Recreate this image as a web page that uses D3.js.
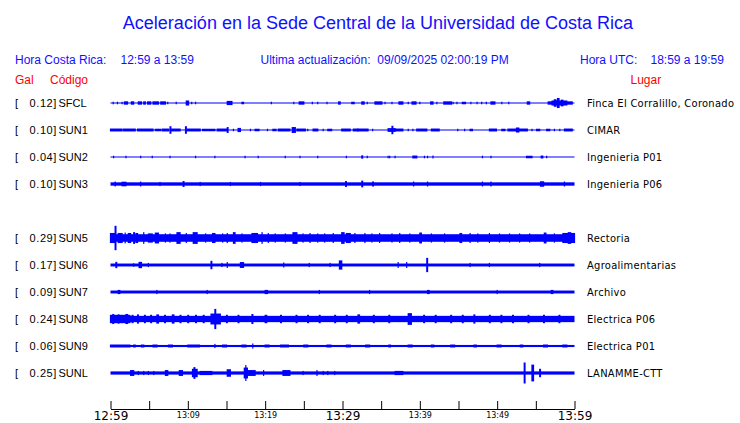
<!DOCTYPE html>
<html>
<head>
<meta charset="utf-8">
<script src="https://cdn.jsdelivr.net/npm/d3@7"></script>
<style>
  body { margin: 0; background: #fff; }
  svg { display: block; }
  .hdr { font-family: "Liberation Sans", Arial, sans-serif; font-size: 12px; }
  .blue { fill: #1010ff; }
  .red { fill: #ff0000; }
  .code { font-family: "Liberation Sans", Arial, sans-serif; font-size: 11px; fill: #000; }
  .place { font-family: "DejaVu Sans Condensed", "DejaVu Sans", sans-serif; font-size: 11px; letter-spacing: 0.3px; fill: #000; }
  .axis text { font-family: "DejaVu Sans", sans-serif; font-weight: normal; fill: #000; }
</style>
</head>
<body>
<svg id="chart" width="740" height="423"></svg>
<script>
// rows in the plot, SUN4 has no trace today so its row stays empty
var rowOrder = ["SFCL", "SUN1", "SUN2", "SUN3", "SUN4", "SUN5", "SUN6", "SUN7", "SUN8", "SUN9", "SUNL"];

var codes = ["SFCL", "SUN1", "SUN2", "SUN3", "SUN5", "SUN6", "SUN7", "SUN8", "SUN9", "SUNL"];
var peaks = [0.12, 0.10, 0.04, 0.10, 0.29, 0.17, 0.09, 0.24, 0.06, 0.25];
var places = ["Finca El Corralillo, Coronado", "CIMAR", "Ingenieria P01", "Ingenieria P06",
  "Rectoria", "Agroalimentarias", "Archivo", "Electrica P06", "Electrica P01", "LANAMME-CTT"];

// background noise level (Gal) of each trace
var noise = [0.012, 0.012, 0.01, 0.04, 0.09, 0.035, 0.035, 0.075, 0.025, 0.038];

// bursts: [start minute, end minute, amplitude in Gal], minutes after 12:59
var burstsSFCL = [[0.35,0.35,.03],[0.9,0.9,.03],[1.5,1.5,.03],[1.8,2.2,.04],[2.7,3.0,.04],[3.6,4.0,.04],
  [4.3,4.5,.04],[4.8,5.2,.04],[5.5,6.2,.04],[6.5,7.1,.04],[7.4,7.4,.03],[8.5,8.5,.03],[9.8,10.1,.06],
  [10.5,10.5,.03],[11.0,11.0,.03],[15.1,15.7,.05],[17.0,17.2,.03],[20.8,20.8,.03],[23.7,23.7,.03],
  [24.4,25.0,.04],[26.1,26.1,.03],[26.8,26.8,.03],[28.0,28.0,.03],[29.5,29.7,.04],[31.2,31.5,.03],
  [32.5,32.8,.04],[33.2,33.2,.03],[34.2,35.1,.04],[35.5,35.5,.03],[36.4,36.4,.03],[37.3,37.8,.04],
  [38.5,38.5,.03],[39.0,39.5,.04],[40.0,40.0,.03],[41.4,41.7,.04],[42.2,42.2,.03],[43.1,44.1,.04],
  [44.3,44.3,.03],[44.8,44.8,.03],[45.5,45.9,.03],[46.6,46.6,.03],[47.4,47.4,.03],[48.0,48.0,.03],
  [48.6,48.6,.03],[49.2,49.7,.04],[50.6,50.6,.03],[51.5,51.5,.03],[53.9,54.2,.04],[56.6,59.7,.04],
  [57.1,59.0,.06],[57.4,57.6,.09],[57.8,58.0,.12],[58.3,58.5,.08]];
var burstsSUN1 = [[0,1.5,.035],[1.7,3.2,.035],[3.5,5.5,.035],[5.8,6.1,.03],[6.2,6.5,.03],[6.7,7.5,.035],
  [7.7,7.8,.09],[7.9,9.0,.035],[9.7,9.8,.09],[9.9,11.6,.035],[11.9,13.5,.03],[13.8,15.0,.035],[15.1,15.2,.07],
  [15.9,15.9,.03],[16.5,16.8,.05],[18.1,18.1,.03],[18.7,19.2,.03],[20.3,20.3,.03],[21.0,21.4,.03],
  [21.7,23.2,.035],[23.5,23.9,.07],[24.1,25.2,.035],[25.5,25.5,.03],[26.2,26.8,.035],[27.5,27.5,.03],
  [28.1,28.6,.03],[29.9,31.0,.035],[31.4,32.0,.035],[32.0,33.3,.035],[33.9,33.9,.03],[35.9,36.8,.045],
  [36.4,36.5,.10],[36.8,37.8,.035],[38.5,38.5,.03],[39.1,39.1,.03],[39.6,40.9,.035],[41.5,42.5,.035],
  [44.9,44.9,.03],[45.8,45.8,.03],[46.5,46.8,.03],[49.0,49.9,.035],[50.6,51.0,.03],[51.4,53.9,.035],
  [52.5,52.8,.06],[54.5,54.5,.03],[55.1,55.5,.03],[56.4,56.8,.03],[57.4,57.4,.03],[58.1,58.1,.03],
  [58.7,59.7,.035]];
var burstsSUN2 = [[0.4,0.4,.03],[2.0,2.0,.03],[3.9,3.9,.03],[5.4,5.4,.03],[7.7,7.7,.03],[11.0,11.0,.03],
  [13.5,13.5,.03],[17.4,17.4,.03],[19.1,19.1,.03],[22.6,22.6,.03],[24.5,24.5,.03],[26.8,26.8,.03],
  [30.5,30.5,.03],[32.5,32.6,.04],[33.2,33.2,.03],[35.9,35.9,.03],[36.1,36.1,.03],[36.8,36.8,.03],
  [39.1,39.6,.035],[40.6,40.6,.03],[41.0,41.0,.03],[41.7,41.7,.035],[48.1,48.1,.03],[49.2,49.2,.03],
  [53.8,54.5,.03],[55.7,55.9,.035],[56.4,56.4,.03]];
var burstsSUN3 = [[0.6,0.6,.06],[1.5,2.0,.055],[3.9,3.9,.06],[6.4,6.4,.05],[9.4,9.5,.07],[11.6,11.6,.05],
  [15.5,15.5,.05],[19.4,19.4,.05],[24.5,24.5,.05],[30.4,30.5,.07],[32.5,32.6,.08],[33.9,34.0,.06],
  [39.2,39.2,.06],[41.0,41.0,.06],[48.1,48.1,.06],[49.2,49.2,.06],[55.6,56.0,.065],[58.7,58.7,.06]];
var burstsSUN5 = [[0,0.5,.12],[0.6,0.7,.29],[1.0,1.5,.12],[1.9,1.9,.13],[2.3,2.6,.12],[3.0,3.1,.14],
  [3.3,3.5,.12],[4.3,4.3,.14],[4.9,5.4,.11],[5.8,6.2,.13],[7.1,7.1,.11],[7.7,7.7,.11],[8.6,9.0,.14],
  [9.8,9.8,.12],[10.7,11.2,.14],[12.3,12.3,.11],[13.2,13.5,.12],[14.5,14.5,.11],[15.1,15.1,.12],
  [15.9,16.1,.14],[17.0,17.0,.11],[18.3,19.0,.12],[19.6,19.6,.14],[20.4,20.4,.12],[21.3,21.3,.11],
  [22.6,22.6,.11],[23.6,24.1,.14],[24.9,24.9,.11],[25.8,25.8,.12],[26.8,26.8,.11],[27.7,27.7,.11],
  [28.8,28.8,.12],[29.9,30.2,.14],[30.5,31.0,.12],[31.6,31.6,.12],[32.9,32.9,.12],[33.8,33.8,.11],
  [34.8,34.8,.12],[36.4,36.4,.11],[37.4,37.4,.12],[38.7,38.7,.11],[40.0,40.2,.13],[41.5,41.5,.11],
  [43.2,43.2,.11],[45.2,45.4,.12],[46.5,46.5,.12],[47.5,47.5,.11],[49.0,49.0,.12],[50.3,50.3,.11],
  [51.6,51.6,.11],[52.9,52.9,.11],[54.2,54.2,.11],[56.1,56.3,.13],[57.4,57.4,.11],[58.5,60,.12],
  [59.2,59.5,.14]];
var burstsSUN6 = [[0.7,0.8,.075],[3.0,3.0,.04],[3.7,4.0,.075],[4.9,4.9,.05],[13.0,13.1,.1],[14.4,14.4,.05],
  [15.1,15.1,.07],[16.8,17.2,.07],[22.4,22.4,.06],[25.7,25.7,.05],[28.4,28.4,.05],[29.6,29.9,.11],
  [37.2,37.2,.07],[38.3,38.3,.07],[40.9,41.0,.17],[46.5,46.5,.05],[49.0,49.0,.05],[55.5,55.5,.05]];
var burstsSUN7 = [[1.0,1.2,.05],[6.0,6.0,.05],[12.5,12.5,.05],[20.0,20.3,.05],[27.0,27.0,.05],
  [33.5,33.5,.05],[41.0,41.2,.05],[50.0,50.0,.05],[57.0,57.2,.05]];
var burstsSUN8 = [[0,2.5,.1],[0.3,0.4,.12],[1.0,1.1,.11],[2.0,2.2,.12],[2.8,2.9,.1],[3.5,3.6,.11],
  [4.4,4.5,.1],[5.2,5.3,.1],[6.0,6.2,.11],[7.0,7.1,.1],[8.0,8.2,.11],[9.0,9.1,.1],[10.0,10.1,.1],
  [11.0,11.1,.1],[12.0,12.1,.1],[13.0,14.2,.13],[13.5,13.6,.24],[15.0,15.1,.1],[16.5,16.6,.1],
  [18.3,18.4,.12],[20.0,20.2,.1],[22.0,22.1,.1],[24.0,24.1,.1],[25.5,25.6,.1],[27.0,27.1,.1],
  [29.0,29.1,.1],[30.5,30.6,.1],[32.0,32.2,.11],[34.0,34.1,.1],[36.0,36.1,.1],[38.5,38.9,.14],
  [40.5,40.6,.1],[42.0,42.1,.1],[44.0,44.1,.1],[45.5,45.6,.1],[47.0,47.1,.11],[49.0,49.1,.1],
  [50.5,50.6,.1],[52.0,52.1,.1],[54.0,54.1,.1],[56.0,56.1,.1],[58.0,58.1,.1]];
var burstsSUN9 = [[0,2.5,.035],[3.0,3.2,.035],[4.0,4.3,.035],[5.5,6.0,.035],[7.5,8.0,.035],
  [10.0,11.5,.035],[13.5,13.5,.05],[14.5,15.0,.035],[17.0,17.5,.035],[18.4,18.4,.06],[20.0,20.5,.035],
  [22.0,23.0,.035],[25.0,25.5,.035],[28.0,28.5,.035],[30.5,31.0,.035],[33.0,33.5,.035],[36.0,36.2,.035],
  [38.5,39.0,.035],[41.5,41.8,.035],[44.0,44.5,.035],[47.0,47.3,.035],[50.0,50.5,.035],[53.0,53.3,.035],
  [56.0,56.5,.035],[58.5,59.0,.035]];
var burstsSUNL = [[2.6,3.0,.07],[3.6,3.6,.05],[4.3,4.3,.05],[4.9,4.9,.05],[5.6,5.6,.05],[7.1,7.4,.07],
  [8.9,9.3,.07],[10.6,11.2,.1],[10.8,10.9,.14],[11.6,13.1,.05],[15.1,15.5,.09],[17.3,17.7,.13],
  [17.5,17.5,.19],[17.7,18.7,.07],[19.8,19.8,.07],[22.3,23.2,.07],[24.9,24.9,.05],[26.7,26.7,.07],
  [27.5,27.5,.05],[28.1,28.1,.05],[29.0,29.0,.05],[36.8,37.8,.05],[53.5,53.6,.25],[54.5,54.7,.2],
  [55.5,55.6,.1]];

var bursts = [burstsSFCL, burstsSUN1, burstsSUN2, burstsSUN3, burstsSUN5,
  burstsSUN6, burstsSUN7, burstsSUN8, burstsSUN9, burstsSUNL];

var startTime = new Date(2025, 8, 9, 12, 59);
var endTime = new Date(2025, 8, 9, 13, 59);
var tickMinutes = [0, 5, 10, 15, 20, 25, 30, 35, 40, 45, 50, 55, 60];
var labelMinutes = [0, 10, 20, 30, 40, 50, 60];
var bigMinutes = [0, 30, 60];

var svg = d3.select("#chart");

var x = d3.scaleTime().domain([startTime, endTime]).range([110.5, 574.5]);
var y = d3.scalePoint().domain(rowOrder).range([103, 373]);
var amp = d3.scaleLinear().domain([0, 0.3]).range([0, 12.6]);

function atMinute(m) {
  return new Date(startTime.getTime() + m * 60000);
}
function minuteOf(t) {
  return Math.round((t - startTime) / 60000);
}

// title and header
svg.append("text")
  .attr("x", 378).attr("y", 29)
  .attr("text-anchor", "middle")
  .attr("class", "blue")
  .style("font-family", "Liberation Sans, Arial, sans-serif")
  .style("font-size", "18px")
  .text("Aceleración en la Sede Central de la Universidad de Costa Rica");

var header = [
  ["Hora Costa Rica:", 15, 64, "blue"], ["12:59 a 13:59", 120.5, 64, "blue"],
  ["Ultima actualización:  09/09/2025 02:00:19 PM", 260.5, 64, "blue"],
  ["Hora UTC:", 580, 64, "blue"], ["18:59 a 19:59", 650.5, 64, "blue"],
  ["Gal", 15, 84, "red"], ["Código", 50, 84, "red"], ["Lugar", 630.5, 84, "red"]
];
svg.selectAll("text.hdr").data(header).enter().append("text")
  .attr("class", function (d) { return "hdr " + d[3]; })
  .attr("x", function (d) { return d[1]; })
  .attr("y", function (d) { return d[2]; })
  .style("white-space", "pre")
  .text(function (d) { return d[0]; });

// one group per station
var rows = svg.selectAll("g.station").data(codes).enter().append("g")
  .attr("class", "station")
  .attr("transform", function (d) { return "translate(0," + y(d) + ")"; });

rows.append("text").attr("class", "code")
  .attr("x", 15).attr("y", 4).text("[");
rows.append("text").attr("class", "code")
  .attr("x", 57).attr("y", 4).attr("text-anchor", "end")
  .style("letter-spacing", "0.6px")
  .text(function (d, i) { return peaks[i].toFixed(2) + "]"; });
rows.append("text").attr("class", "code")
  .attr("x", 58.5).attr("y", 4)
  .text(function (d) { return d; });

rows.append("text").attr("class", "place")
  .attr("x", 587).attr("y", 4)
  .text(function (d, i) { return places[i]; });

// continuous noise band
rows.append("rect")
  .attr("x", x(startTime))
  .attr("width", x(endTime) - x(startTime))
  .attr("y", function (d, i) { return -Math.max(amp(noise[i]), 0.5); })
  .attr("height", function (d, i) { return 2 * Math.max(amp(noise[i]), 0.5); })
  .attr("fill", "#0000ff");

// bursts
rows.each(function (d, i) {
  d3.select(this).selectAll("rect.burst").data(bursts[i]).enter().append("rect")
    .attr("class", "burst")
    .attr("x", function (b) { return x(atMinute(b[0])) - 0.6; })
    .attr("width", function (b) { return Math.max(x(atMinute(b[1])) - x(atMinute(b[0])), 0) + 1.2; })
    .attr("y", function (b) { return -amp(b[2]); })
    .attr("height", function (b) { return 2 * amp(b[2]); })
    .attr("fill", "#0000ff");
});

// time axis, ticks every 5 minutes pointing up
var axis = d3.axisBottom(x)
  .tickValues(tickMinutes.map(atMinute))
  .tickSizeInner(-8)
  .tickSizeOuter(0)
  .tickPadding(3)
  .tickFormat(function (t) {
    return labelMinutes.indexOf(minuteOf(t)) >= 0 ? d3.timeFormat("%H:%M")(t) : "";
  });

var gx = svg.append("g").attr("class", "axis")
  .attr("transform", "translate(0,409)")
  .call(axis);
gx.select(".domain").attr("stroke", "#000");
gx.selectAll(".tick line").attr("stroke", "#000");
gx.selectAll(".tick text")
  .attr("dy", 0)
  .attr("y", function (t) { return bigMinutes.indexOf(minuteOf(t)) >= 0 ? 10.5 : 8.5; })
  .style("font-size", function (t) { return bigMinutes.indexOf(minuteOf(t)) >= 0 ? "12px" : "8px"; });
</script>
</body>
</html>
